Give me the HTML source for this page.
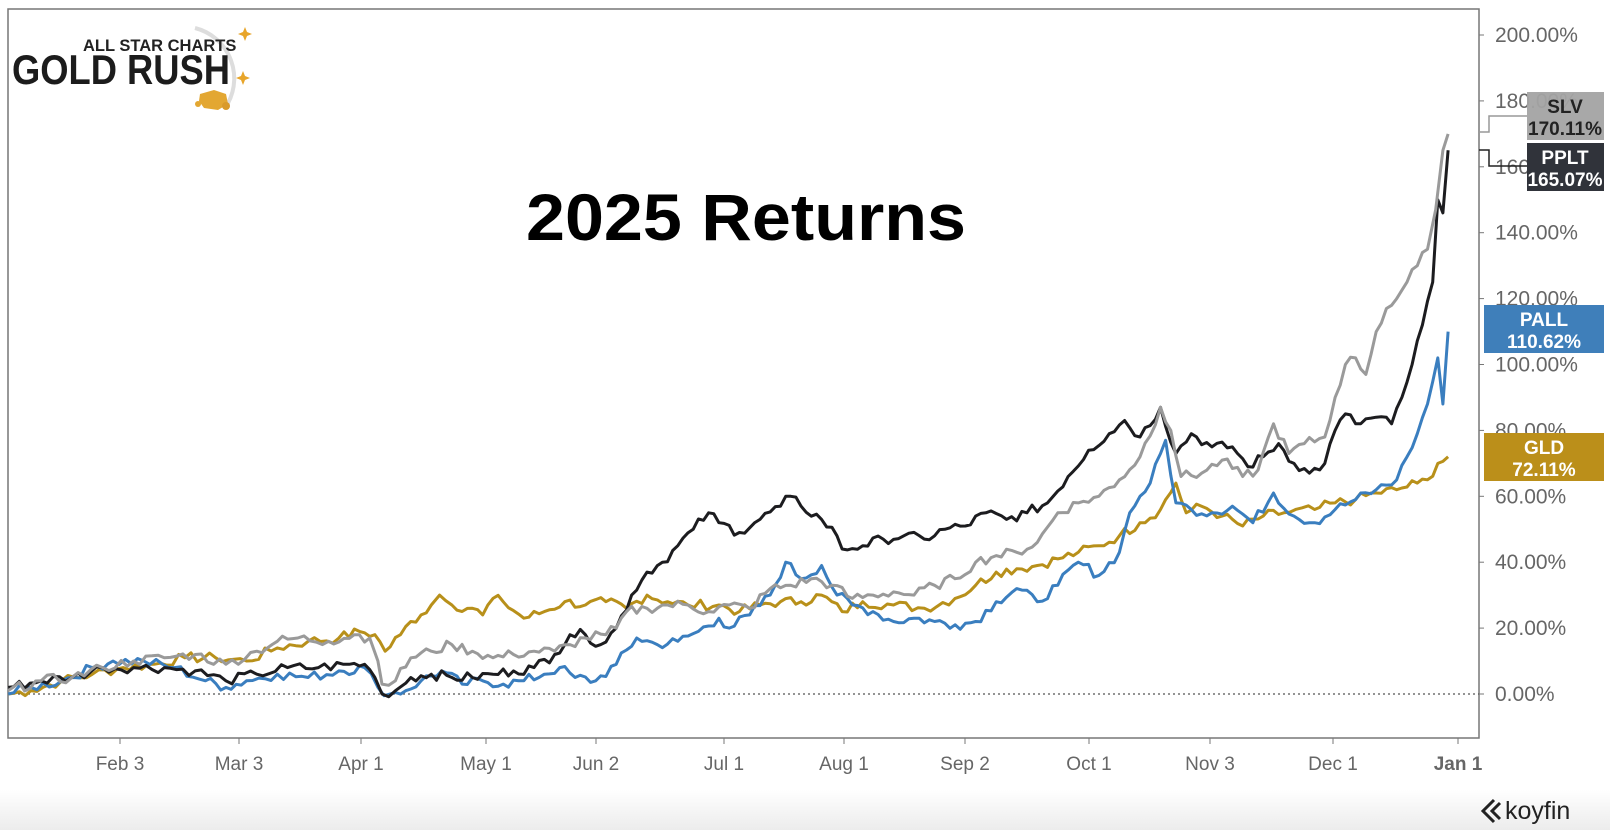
<!DOCTYPE html>
<html><head><meta charset="utf-8"><style>
html,body{margin:0;padding:0;background:#fff;}
body{width:1610px;height:830px;overflow:hidden;font-family:"Liberation Sans",sans-serif;}
</style></head><body>
<svg id="s" width="1610" height="830" xmlns="http://www.w3.org/2000/svg" style="position:absolute;left:0;top:0">
<defs><linearGradient id="g" x1="0" y1="0" x2="0" y2="1"><stop offset="0" stop-color="#fff"/><stop offset="1" stop-color="#ececec"/></linearGradient></defs>
<rect x="0" y="790" width="1610" height="40" fill="url(#g)"/>
<rect x="8" y="9" width="1471" height="729" fill="none" stroke="#777" stroke-width="1.5"/>
<line x1="8" y1="694" x2="1479" y2="694" stroke="#555" stroke-width="1.3" stroke-dasharray="2,3"/>
<g id="yax" font-size="21" fill="#666"></g>
<g id="xax" font-size="19" fill="#666" text-anchor="middle"></g>
<g id="lines" fill="none" stroke-width="3" stroke-linejoin="round"></g>
<text x="746" y="240" font-size="66" font-weight="bold" text-anchor="middle" fill="#000" textLength="440" lengthAdjust="spacingAndGlyphs">2025 Returns</text>
<!-- logo -->
<path d="M195 28 A52 52 0 0 1 225 108" fill="none" stroke="#ddd" stroke-width="4"/>
<text x="83" y="51" font-size="16.5" font-weight="bold" fill="#222">ALL STAR CHARTS</text>
<text x="12" y="84" font-size="42" font-weight="bold" fill="#1c1c1c" textLength="218" lengthAdjust="spacingAndGlyphs">GOLD RUSH</text>
<path d="M245 27 l2 5 5 2 -5 2 -2 5 -2 -5 -5 -2 5 -2z" fill="#e8a52a"/>
<path d="M243 71 l2 5 5 2 -5 2 -2 5 -2 -5 -5 -2 5 -2z" fill="#e8a52a"/>
<path d="M200 94 l14 -4 12 4 2 10 -10 6 -14 -2 -5 -7z" fill="#e3a732"/>
<circle cx="198" cy="104" r="3" fill="#e3a732"/><circle cx="226" cy="106" r="4" fill="#d99a2a"/>
<!-- labels -->
<polyline points="1479,132 1489,132 1489,116 1527,116" fill="none" stroke="#999" stroke-width="1.5"/>
<polyline points="1479,150 1489,150 1489,166 1527,166" fill="none" stroke="#222" stroke-width="1.5"/>
<rect x="1527" y="92" width="77" height="48" fill="#a3a3a3" opacity="0.95"/>
<text x="1565" y="113" font-size="19" font-weight="bold" fill="#222" text-anchor="middle">SLV</text>
<text x="1565" y="135" font-size="19" font-weight="bold" fill="#222" text-anchor="middle">170.11%</text>
<rect x="1527" y="143" width="77" height="48" fill="#30333a"/>
<text x="1565" y="164" font-size="19" font-weight="bold" fill="#fff" text-anchor="middle">PPLT</text>
<text x="1565" y="186" font-size="19" font-weight="bold" fill="#fff" text-anchor="middle">165.07%</text>
<rect x="1484" y="305" width="120" height="48" fill="#3f7fba"/>
<text x="1544" y="326" font-size="19" font-weight="bold" fill="#fff" text-anchor="middle">PALL</text>
<text x="1544" y="348" font-size="19" font-weight="bold" fill="#fff" text-anchor="middle">110.62%</text>
<rect x="1484" y="433" width="120" height="48" fill="#bb8f1a"/>
<text x="1544" y="454" font-size="19" font-weight="bold" fill="#fff" text-anchor="middle">GLD</text>
<text x="1544" y="476" font-size="19" font-weight="bold" fill="#fff" text-anchor="middle">72.11%</text>
<!-- koyfin -->
<path d="M1494 800 l-11 11 11 11 M1500 803 l-8 8 8 8" fill="none" stroke="#222" stroke-width="3"/>
<text x="1505" y="819" font-size="25" fill="#222">koyfin</text>
</svg>
<script>
var NS="http://www.w3.org/2000/svg";
function y(v){return 694-3.295*v;}
function X(d){return d*1.027;}
var ya=document.getElementById("yax");
for(var v=0;v<=200;v+=20){
 var yy=y(v);
 var t=document.createElementNS(NS,"text");t.setAttribute("x",1495);t.setAttribute("y",yy+7);t.textContent=v.toFixed(2)+"%";ya.appendChild(t);
 var l=document.createElementNS(NS,"line");l.setAttribute("x1",1479);l.setAttribute("x2",1484);l.setAttribute("y1",yy);l.setAttribute("y2",yy);l.setAttribute("stroke","#777");ya.appendChild(l);
}
var xt=[["Feb 3",120],["Mar 3",239],["Apr 1",361],["May 1",486],["Jun 2",596],["Jul 1",724],["Aug 1",844],["Sep 2",965],["Oct 1",1089],["Nov 3",1210],["Dec 1",1333],["Jan 1",1458]];
var xa=document.getElementById("xax");
xt.forEach(function(a){var t=document.createElementNS(NS,"text");t.setAttribute("x",a[1]);t.setAttribute("y",770);t.textContent=a[0];if(a[0]=="Jan 1"){t.setAttribute("font-weight","bold");}xa.appendChild(t);
var l=document.createElementNS(NS,"line");l.setAttribute("x1",a[1]);l.setAttribute("x2",a[1]);l.setAttribute("y1",738);l.setAttribute("y2",744);l.setAttribute("stroke","#777");xa.appendChild(l);});
var S={
gld:["#b8901a",[[8,0],[30,1],[60,4],[90,6],[120,8],[150,9],[180,11],[210,11],[240,10],[270,14],[300,16],[330,17],[350,19],[365,18],[375,13],[390,18],[400,22],[410,24],[420,27],[428,30],[440,27],[460,26],[470,24],[480,29],[490,28],[510,23],[530,25],[550,28],[570,27],[590,28],[610,26],[630,30],[650,28],[670,27],[700,27],[720,25],[740,27],[760,28],[780,28],[800,30],[820,25],[840,28],[870,27],[900,26],[930,29],[950,33],[970,37],[990,38],[1010,39],[1030,41],[1050,43],[1070,45],[1090,48],[1110,52],[1130,56],[1145,64],[1155,55],[1170,57],[1190,54],[1210,51],[1230,54],[1250,55],[1280,56],[1300,58],[1320,59],[1340,61],[1360,62],[1380,64],[1390,65],[1400,70],[1410,72]]],
pall:["#3a7ebf",[[8,0],[30,2],[60,4],[90,8],[110,10],[140,10],[170,8],[200,4],[220,2],[240,4],[270,6],[300,5],[330,7],[355,8],[368,2],[380,0],[395,1],[410,4],[430,7],[450,3],[470,4],[490,3],[510,4],[530,6],[545,8],[560,5],[580,4],[600,9],[620,17],[640,15],[660,16],[680,19],[700,23],[710,20],[730,24],[750,30],[765,40],[780,35],[800,39],[815,30],[830,27],[850,25],[870,22],[890,23],[910,22],[930,21],[950,22],[970,28],[990,32],[1010,28],[1030,33],[1050,40],[1070,36],[1090,43],[1100,55],[1110,60],[1120,64],[1135,77],[1145,58],[1160,56],[1180,55],[1200,57],[1220,52],[1240,61],[1260,54],[1280,52],[1300,56],[1320,59],[1340,62],[1360,65],[1370,72],[1380,79],[1390,88],[1400,102],[1405,88],[1410,110]]],
pplt:["#1c1c1f",[[8,2],[40,4],[70,5],[100,8],[130,8],[160,8],[190,7],[220,4],[250,6],[280,8],[310,8],[340,9],[355,9],[365,5],[372,0],[385,1],[400,5],[420,6],[440,5],[460,5],[480,6],[500,7],[520,8],[540,12],[555,18],[570,18],[585,15],[600,20],[615,30],[630,37],[645,40],[660,45],[675,50],[690,55],[700,52],[720,49],[740,53],[760,57],[770,60],[780,57],[800,53],[815,48],[820,44],[840,45],[860,47],[880,48],[900,47],[920,50],[940,51],[960,55],[980,53],[1000,55],[1020,58],[1040,66],[1060,74],[1080,79],[1095,83],[1110,78],[1130,87],[1145,73],[1160,79],[1180,75],[1200,75],[1215,69],[1230,72],[1245,76],[1260,70],[1275,67],[1290,70],[1300,80],[1310,85],[1320,82],[1340,84],[1355,82],[1365,90],[1375,100],[1385,112],[1395,125],[1400,150],[1405,146],[1410,165]]],
slv:["#9a9a9a",[[8,1],[40,4],[70,5],[100,8],[130,10],[160,11],[190,12],[220,9],[250,13],[270,16],[290,17],[320,16],[345,18],[360,17],[368,10],[372,3],[385,4],[400,11],[420,13],[440,15],[460,13],[480,11],[500,12],[520,13],[540,13],[555,15],[570,17],[590,18],[600,20],[610,25],[630,26],[650,27],[670,27],[690,25],[710,27],[730,26],[750,32],[770,33],[790,35],[810,33],[830,29],[850,30],[870,31],[890,30],[910,33],[930,35],[950,40],[970,42],[990,43],[1010,46],[1030,55],[1050,58],[1070,60],[1090,65],[1110,72],[1130,87],[1140,80],[1150,66],[1170,67],[1190,71],[1210,66],[1225,68],[1240,82],[1255,73],[1270,76],[1290,78],[1300,90],[1310,100],[1320,102],[1330,97],[1340,110],[1350,117],[1360,120],[1370,125],[1380,130],[1390,135],[1398,147],[1405,165],[1410,170]]]
};
var seed=7;function rnd(){seed=(seed*9301+49297)%233280;return seed/233280-0.5;}
var g=document.getElementById("lines");
["gld","pall","pplt","slv"].forEach(function(k){
 var c=S[k][0],p=S[k][1],pts=[];
 for(var i=0;i<p.length-1;i++){
  var a=p[i],b=p[i+1],n=Math.max(1,Math.round((b[0]-a[0])/5.5));
  for(var j=0;j<n;j++){var f=j/n;var v=a[1]+(b[1]-a[1])*f;if(j>0)v+=rnd()*3.2;pts.push(X(a[0]+(b[0]-a[0])*f).toFixed(1)+","+y(v).toFixed(1));}
 }
 var L=p[p.length-1];pts.push(X(L[0]).toFixed(1)+","+y(L[1]).toFixed(1));
 var pl=document.createElementNS(NS,"polyline");pl.setAttribute("points",pts.join(" "));pl.setAttribute("stroke",c);g.appendChild(pl);
});
</script>
</body></html>
